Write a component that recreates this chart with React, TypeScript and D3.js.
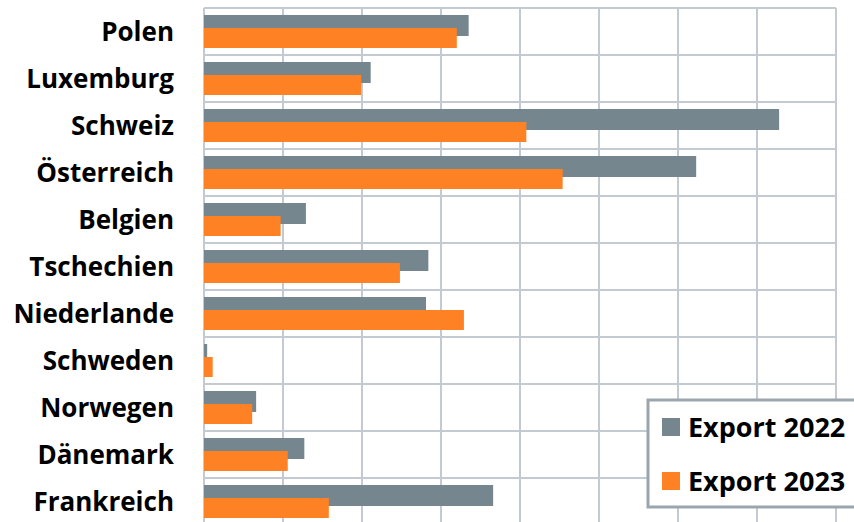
import * as d3 from "d3";

const categories = ["Polen", "Luxemburg", "Schweiz", "Österreich", "Belgien", "Tschechien", "Niederlande", "Schweden", "Norwegen", "Dänemark", "Frankreich"];
const export2022 = [3.35, 2.11, 7.28, 6.23, 1.29, 2.84, 2.81, 0.04, 0.66, 1.27, 3.66];
const export2023 = [3.2, 1.99, 4.08, 4.54, 0.97, 2.48, 3.29, 0.11, 0.61, 1.06, 1.58];
const xTicks = [0, 1, 2, 3, 4, 5, 6, 7, 8];

export default function App() {
  const W = 854, H = 522;
  const left = 204, right = 836, top = 8, band = 47;
  const x = d3.scaleLinear().domain([0, 8]).range([left, right]);
  const y = d3.scaleBand().domain(categories).range([top, top + band * categories.length]);
  const grid = "#c3cad1";
  const font = "'Open Sans', Lato, sans-serif";
  return (
    <svg width={W} height={H} style={{ position: "absolute", left: 0, top: 0 }}>
      <rect width={W} height={H} fill="#fff" />
      {xTicks.map((t) => (
        <line key={t} x1={x(t)} x2={x(t)} y1={top} y2={H} stroke={grid} strokeWidth={2} />
      ))}
      {categories.map((c) => (
        <line key={c} x1={left} x2={right} y1={y(c)!} y2={y(c)!} stroke={grid} strokeWidth={2} />
      ))}
      {categories.map((c, i) => (
        <g key={c}>
          <rect x={x(0)} y={y(c)! + 7} width={x(export2022[i]) - x(0)} height={21} fill="#76868f" />
          <rect x={x(0)} y={y(c)! + 20} width={x(export2023[i]) - x(0)} height={20} fill="#fe8224" />
          <text x={174} y={y(c)! + band / 2 + 3} textAnchor="end" dominantBaseline="middle" fontFamily={font} fontWeight="bold" fontSize={26} fill="#000">{c}</text>
        </g>
      ))}
      <rect x={x(0) - 1} y={top} width={1} height={H} fill={grid} />
      <g>
        <rect x={648} y={400} width={220} height={107} fill="#fff" stroke="#9aa5ae" strokeWidth={3} />
        <rect x={662} y={418} width={18} height={18} fill="#76868f" />
        <text x={688} y={437} fontFamily={font} fontWeight="bold" fontSize={27}>Export 2022</text>
        <rect x={662} y={472} width={18} height={18} fill="#fe8224" />
        <text x={688} y={491} fontFamily={font} fontWeight="bold" fontSize={27}>Export 2023</text>
      </g>
    </svg>
  );
}
